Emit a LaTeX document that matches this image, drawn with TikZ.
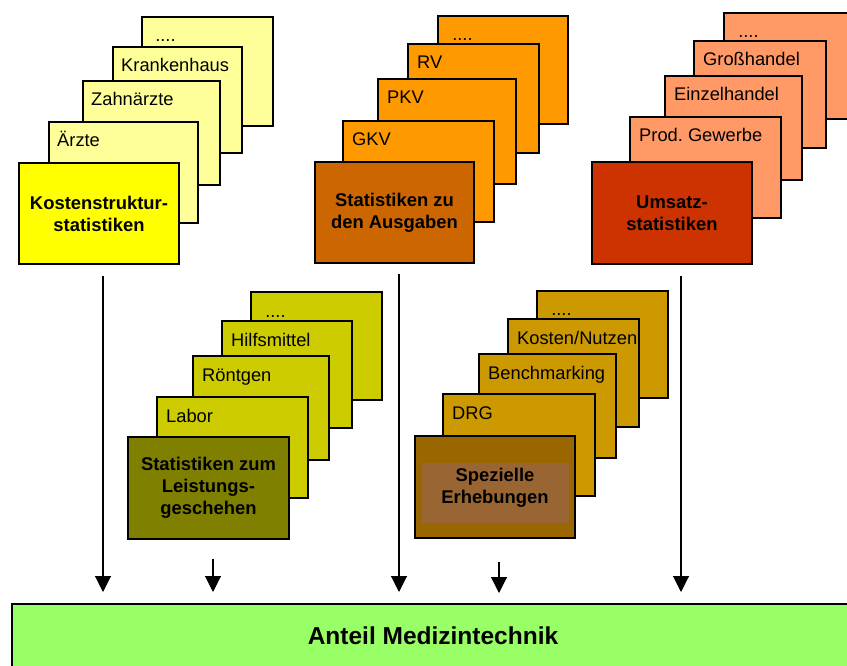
\documentclass[tikz,border=0pt]{standalone}
\usepackage{fontspec}
\setmainfont{Liberation Sans}
\usetikzlibrary{arrows.meta}

\definecolor{kostback}{HTML}{FFFF99}
\definecolor{kostfront}{HTML}{FFFF00}
\definecolor{ausgback}{HTML}{FF9900}
\definecolor{ausgfront}{HTML}{CC6600}
\definecolor{umsback}{HTML}{FF9966}
\definecolor{umsfront}{HTML}{CC3300}
\definecolor{leistback}{HTML}{CCCC00}
\definecolor{leistfront}{HTML}{808000}
\definecolor{spezback}{HTML}{CC9900}
\definecolor{spezfront}{HTML}{996600}
\definecolor{spezinner}{HTML}{996633}
\definecolor{anteil}{HTML}{99FF66}

\begin{document}
\begin{tikzpicture}[x=1pt,y=-1pt,
  card/.style={draw=black,line width=1.8pt},
  lab/.style={anchor=base west,inner sep=0pt,font=\fontsize{18.3}{21}\selectfont},
  head/.style={draw=black,line width=1.8pt,align=center,inner sep=0pt,
    font=\fontsize{18.4}{22}\selectfont\bfseries},
  pfeil/.style={-{Triangle[width=16pt,length=16pt]},line width=1.1pt}]

\useasboundingbox (0,0) rectangle (847,666);
\clip (0,0) rectangle (847,666);

% Kostenstruktur
\foreach \xa/\ya/\xb/\yb/\t/\n in {142/17/273/126/{\ ....}/k4,
    113/47/242/153/Krankenhaus/k3, 83/81/220/185/Zahnärzte/k2,
    49/122/198/223/Ärzte/k1}
  {\filldraw[card,fill=kostback] (\xa,\ya) rectangle (\xb,\yb);
   \node[lab] (\n) at (\xa+8,\ya+25) {\t};}
\node[head,fill=kostfront,minimum width=160,minimum height=101] (kost) at (99,213.5)
  {Kostenstruktur-\\statistiken};

% Ausgaben
\foreach \xa/\ya/\xb/\yb/\t/\n in {438/16/568/124/{\ ....}/a4,
    408/44/539/153/RV/a3, 378/79/516/184/PKV/a2, 343/121/494/222/GKV/a1}
  {\filldraw[card,fill=ausgback] (\xa,\ya) rectangle (\xb,\yb);
   \node[lab] (\n) at (\xa+9,\ya+25) {\t};}
\node[head,fill=ausgfront,minimum width=159,minimum height=101] (ausg) at (394.5,212.5)
  {Statistiken zu\\den Ausgaben};

% Umsatz
\foreach \xa/\ya/\xb/\yb/\t/\n in {724/13/870/119/{\ ....}/u4,
    694/41/826/148/Großhandel/u3, 665/76/802/180/Einzelhandel/u2,
    630/117/781/218/{Prod.\ Gewerbe}/u1}
  {\filldraw[card,fill=umsback] (\xa,\ya) rectangle (\xb,\yb);
   \node[lab] (\n) at (\xa+9,\ya+25) {\t};}
\node[head,fill=umsfront,minimum width=160,minimum height=102] (ums) at (672,213)
  {Umsatz-\\statistiken};

% Leistungsgeschehen
\foreach \xa/\ya/\xb/\yb/\t/\n in {251/292/382/400/{\ ....}/l4,
    222/321/352/428/Hilfsmittel/l3, 193/356/329/460/Röntgen/l2,
    157/397/308/498/Labor/l1}
  {\filldraw[card,fill=leistback] (\xa,\ya) rectangle (\xb,\yb);
   \node[lab] (\n) at (\xa+9,\ya+25) {\t};}
\node[head,fill=leistfront,minimum width=161,minimum height=102] (leist) at (208.5,488)
  {Statistiken zum\\Leistungs-\\geschehen};

% Spezielle Erhebungen
\foreach \xa/\ya/\xb/\yb/\t/\n in {537/291/668/398/{\ ....}/s4,
    508/319/639/427/{Kosten/Nutzen}/s3, 479/354/616/458/Benchmarking/s2,
    443/394/595/496/DRG/s1}
  {\filldraw[card,fill=spezback] (\xa,\ya) rectangle (\xb,\yb);
   \node[lab] (\n) at (\xa+9,\ya+25) {\t};}
\node[head,fill=spezfront,minimum width=160,minimum height=102] (spez) at (495,487) {};
\fill[spezinner] (422,463) rectangle (569,523);
\node[align=center,font=\fontsize{18.4}{22}\selectfont\bfseries] (speztext) at (495,488)
  {Spezielle\\Erhebungen};

% Anteil
\node[draw=black,line width=1.8pt,fill=anteil,minimum width=860,minimum height=80,
  anchor=north west] (med) at (11,603) {};
\node[font=\fontsize{24.5}{28}\selectfont\bfseries] (medtext) at (433,636) {Anteil Medizintechnik};

% Pfeile
\coordinate (p1) at (103,276);  \coordinate (q1) at (103,592);
\coordinate (p2) at (213,559);  \coordinate (q2) at (213,592);
\coordinate (p3) at (399,274);  \coordinate (q3) at (399,592);
\coordinate (p4) at (499,562);  \coordinate (q4) at (499,593);
\coordinate (p5) at (681,276);  \coordinate (q5) at (681,592);

\foreach \i in {1,...,5}
  \draw[pfeil] (p\i) -- (q\i);

\end{tikzpicture}
\end{document}
